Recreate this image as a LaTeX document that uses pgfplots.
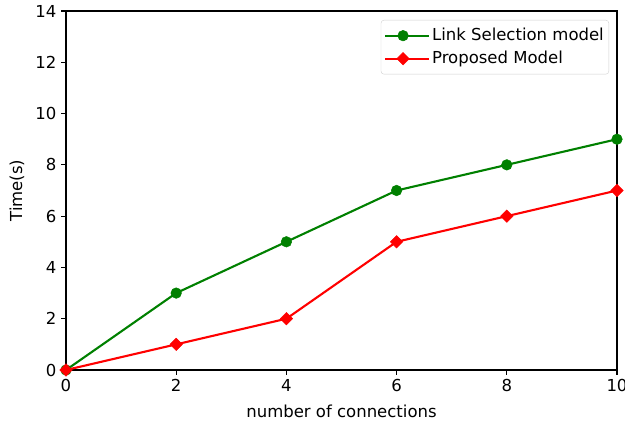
\documentclass[border=0pt]{standalone}
\usepackage{fontspec}
\setmainfont{DejaVu Sans}
\usepackage{pgfplots}
\pgfplotsset{compat=1.18}
\definecolor{mplgreen}{RGB}{0,128,0}
\definecolor{mplred}{RGB}{255,0,0}
\newcommand{\mplfont}{\fontsize{16.5}{19}\selectfont}
\begin{document}
\mplfont
\begin{tikzpicture}
\path[use as bounding box] (-66pt,-54pt) rectangle (559pt,370pt);
\begin{axis}[
  at={(0pt,0pt)}, anchor=origin,
  scale only axis,
  width=551pt, height=359pt,
  xmin=0, xmax=10, ymin=0, ymax=14,
  xtick={0,2,4,6,8,10},
  ytick={0,2,4,6,8,10,12,14},
  tick align=outside,
  tick pos=left,
  major tick length=4.9pt,
  every tick/.style={black, line width=1.1pt},
  axis line style={line width=1.1pt},
  /pgf/number format/assume math mode=true,
  ticklabel style={font=\mplfont},
  xticklabel style={yshift=1pt},
  yticklabel style={xshift=1pt},
  xlabel={number of connections},
  ylabel={Time(s)},
  label style={font=\mplfont},
  xlabel style={yshift=-2pt},
  legend style={
    at={(0.9855,0.975)}, anchor=north east,
    draw=black!18, rounded corners=3pt,
    font=\mplfont,
    inner xsep=3pt, inner ysep=6pt,
    row sep=4pt,
    cells={anchor=west},
    legend cell align=left,
  },
  legend image code/.code={
    \path (0pt,0pt) -- (44pt,0pt);
    \draw[mark repeat=2, mark phase=2] plot coordinates {(0pt,0pt) (18pt,0pt) (36pt,0pt)};
  },
]
\addplot[color=mplgreen, line width=2.1pt, mark=*, mark size=5.3pt,
  mark options={solid, fill=mplgreen, draw=mplgreen, line width=0.5pt}]
  coordinates {(0,0) (2,3) (4,5) (6,7) (8,8) (10,9)};
\addlegendentry{Link Selection model}
\addplot[color=mplred, line width=2.1pt, mark=square*, mark size=4.4pt,
  mark options={solid, rotate=45, fill=mplred, draw=mplred, line width=0.5pt}]
  coordinates {(0,0) (2,1) (4,2) (6,5) (8,6) (10,7)};
\addlegendentry{Proposed Model}
\end{axis}
\end{tikzpicture}
\end{document}
